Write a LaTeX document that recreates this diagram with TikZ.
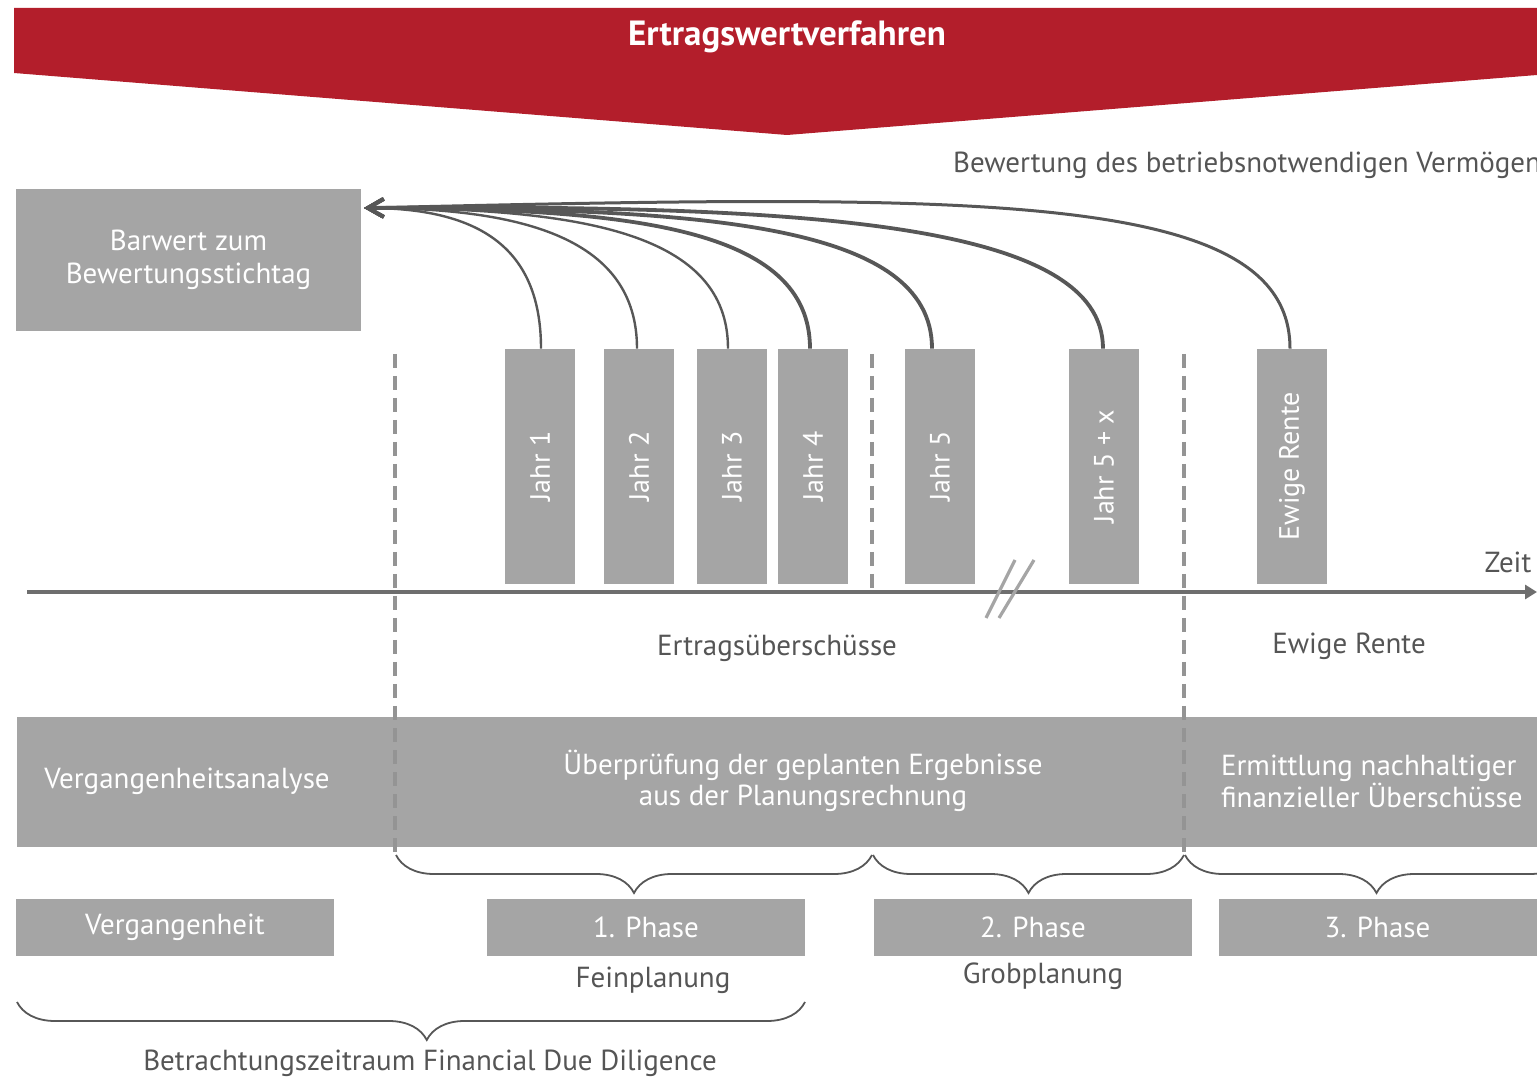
\documentclass[tikz,border=0pt]{standalone}
\usepackage{fontspec}
\setmainfont{PT Sans}
\usetikzlibrary{positioning, calc, arrows.meta, decorations.pathreplacing}
\definecolor{ewred}{HTML}{B31E2B}
\definecolor{boxgray}{HTML}{A5A5A5}
\definecolor{txtgray}{HTML}{555555}
\definecolor{linegray}{HTML}{575757}
\definecolor{dashgray}{HTML}{949494}
\definecolor{axisgray}{HTML}{6E6E6E}

\begin{document}
\begin{tikzpicture}[x=0.5pt,y=-0.5pt,
    box/.style={fill=boxgray, text=white, inner sep=0pt, align=center, font=\fontsize{14.5}{16}\selectfont},
    yearbox/.style={box, minimum width=35pt, minimum height=117.5pt},
    yeartxt/.style={rotate=90, text=white, font=\fontsize{14}{16}\selectfont},
    phasebox/.style={box, minimum width=159pt, minimum height=28.5pt},
    lbl/.style={text=txtgray, font=\fontsize{14.5}{16}\selectfont},
    flow/.style={draw=linegray, line width=1.2pt, -{Straight Barb[length=8pt,width=9pt]}},
    sep/.style={dashgray, line width=2pt, dash pattern=on 7pt off 4pt},
    brc/.style={decorate, decoration={brace, mirror, amplitude=19pt}, draw=linegray, line width=0.9pt}]
      \useasboundingbox (0,0) rectangle (1537,1079);

      \fill[ewred] (14,8) -- (1537,8) -- (1537,75) -- (787,135) -- (14,73) -- cycle;
      \node[text=white, font=\fontsize{17.5}{20}\selectfont\bfseries] (TTL) at (787,37) {Ertragswertverfahren};
      \node[lbl, anchor=west] (BEW) at (946,165) {Bewertung des betriebsnotwendigen Vermögens};

      \node[box, minimum width=172.5pt, minimum height=71pt, font=\fontsize{14.5}{16.5}\selectfont] (BW) at (188.5,260) {Barwert zum\\Bewertungsstichtag};
      \coordinate (TIP) at (364,208);

      \node[yearbox, label={[yeartxt]center:Jahr 1}] (J1) at (540,466.5) {};
      \node[yearbox, label={[yeartxt]center:Jahr 2}] (J2) at (639,466.5) {};
      \node[yearbox, label={[yeartxt]center:Jahr 3}] (J3) at (732,466.5) {};
      \node[yearbox, label={[yeartxt]center:Jahr 4}] (J4) at (813,466.5) {};
      \node[yearbox, label={[yeartxt]center:Jahr 5}] (J5) at (940,466.5) {};
      \node[yearbox, label={[yeartxt]center:Jahr 5 + x}] (J5x) at (1104,466.5) {};
      \node[yearbox, label={[yeartxt]center:Ewige Rente}] (ER) at (1292,466.5) {};

      \draw[flow] ([xshift=0.5pt]J1.north) .. controls +(0,-105) and +(110,0) .. (TIP);
      \draw[flow] ([xshift=-1pt]J2.north) .. controls +(0,-110) and +(160,0) .. (TIP);
      \draw[flow] ([xshift=-2pt]J3.north) .. controls +(0,-115) and +(220,0) .. (TIP);
      \draw[flow, line width=1.9pt] ([xshift=-1.5pt]J4.north) .. controls +(0,-120) and +(270,0) .. (TIP);
      \draw[flow, line width=1.9pt] ([xshift=-4pt]J5.north) .. controls +(0,-125) and +(340,0) .. (TIP);
      \draw[flow, line width=1.9pt] ([xshift=-0.5pt]J5x.north) .. controls +(0,-125) and +(450,-4) .. (TIP);
      \draw[flow, line width=1.5pt] ([xshift=-1pt]ER.north) .. controls +(0,-160) and +(610,-14) .. (TIP);

      \node[box, minimum width=760pt, minimum height=65pt] (BAND) at (777,782) {};
      \node[text=white, font=\fontsize{14.5}{16}\selectfont] (VA) at (187,781) {Vergangenheitsanalyse};
      \node[text=white, align=center, font=\fontsize{14.5}{15.5}\selectfont] (UP) at (803,781) {Überprüfung der geplanten Ergebnisse\\aus der Planungsrechnung};
      \node[text=white, align=left, anchor=west, font=\fontsize{14.5}{16}\selectfont] (EN) at (1214,781) {Ermittlung nachhaltiger\\finanzieller Überschüsse};

      \draw[sep] (395,354) -- (395,852);
      \draw[sep] (872,354) -- (872,590);
      \draw[sep] (1184,354) -- (1184,856);

      \coordinate (T0) at (27,592);
      \coordinate (T1) at (1537,592);
      \draw[axisgray, line width=2pt, -{Triangle[length=6pt,width=7pt]}] (T0) -- (T1);
      \node[lbl] (ZT) at (1508,562) {Zeit};
      \draw[boxgray, line width=1.6pt] (986,618) -- (1015,560) (999,618) -- (1034,560);

      \node[lbl] (EU) at (777,648) {Ertragsüberschüsse};
      \node[lbl] (EWR) at (1349,646) {Ewige Rente};

      \draw[brc] (396,855) -- (872,855);
      \draw[brc] (873,855) -- (1184,855);
      \draw[brc] (1185,855) -- (1568,855);

      \node[phasebox] (VG) at (175,927.5) {Vergangenheit};
      \node[phasebox] (P1) at (646,927.5) {1. Phase};
      \node[phasebox] (P2) at (1033,927.5) {2. Phase};
      \node[phasebox] (P3) at (1377.5,927.5) {3. Phase};

      \node[lbl] (FP) at (653,980) {Feinplanung};
      \node[lbl] (GP) at (1043,976) {Grobplanung};

      \draw[brc, decoration={aspect=0.52}] (17,1002) -- (805,1002);
      \node[lbl] (BZ) at (430,1063) {Betrachtungszeitraum Financial Due Diligence};
\end{tikzpicture}
\end{document}
